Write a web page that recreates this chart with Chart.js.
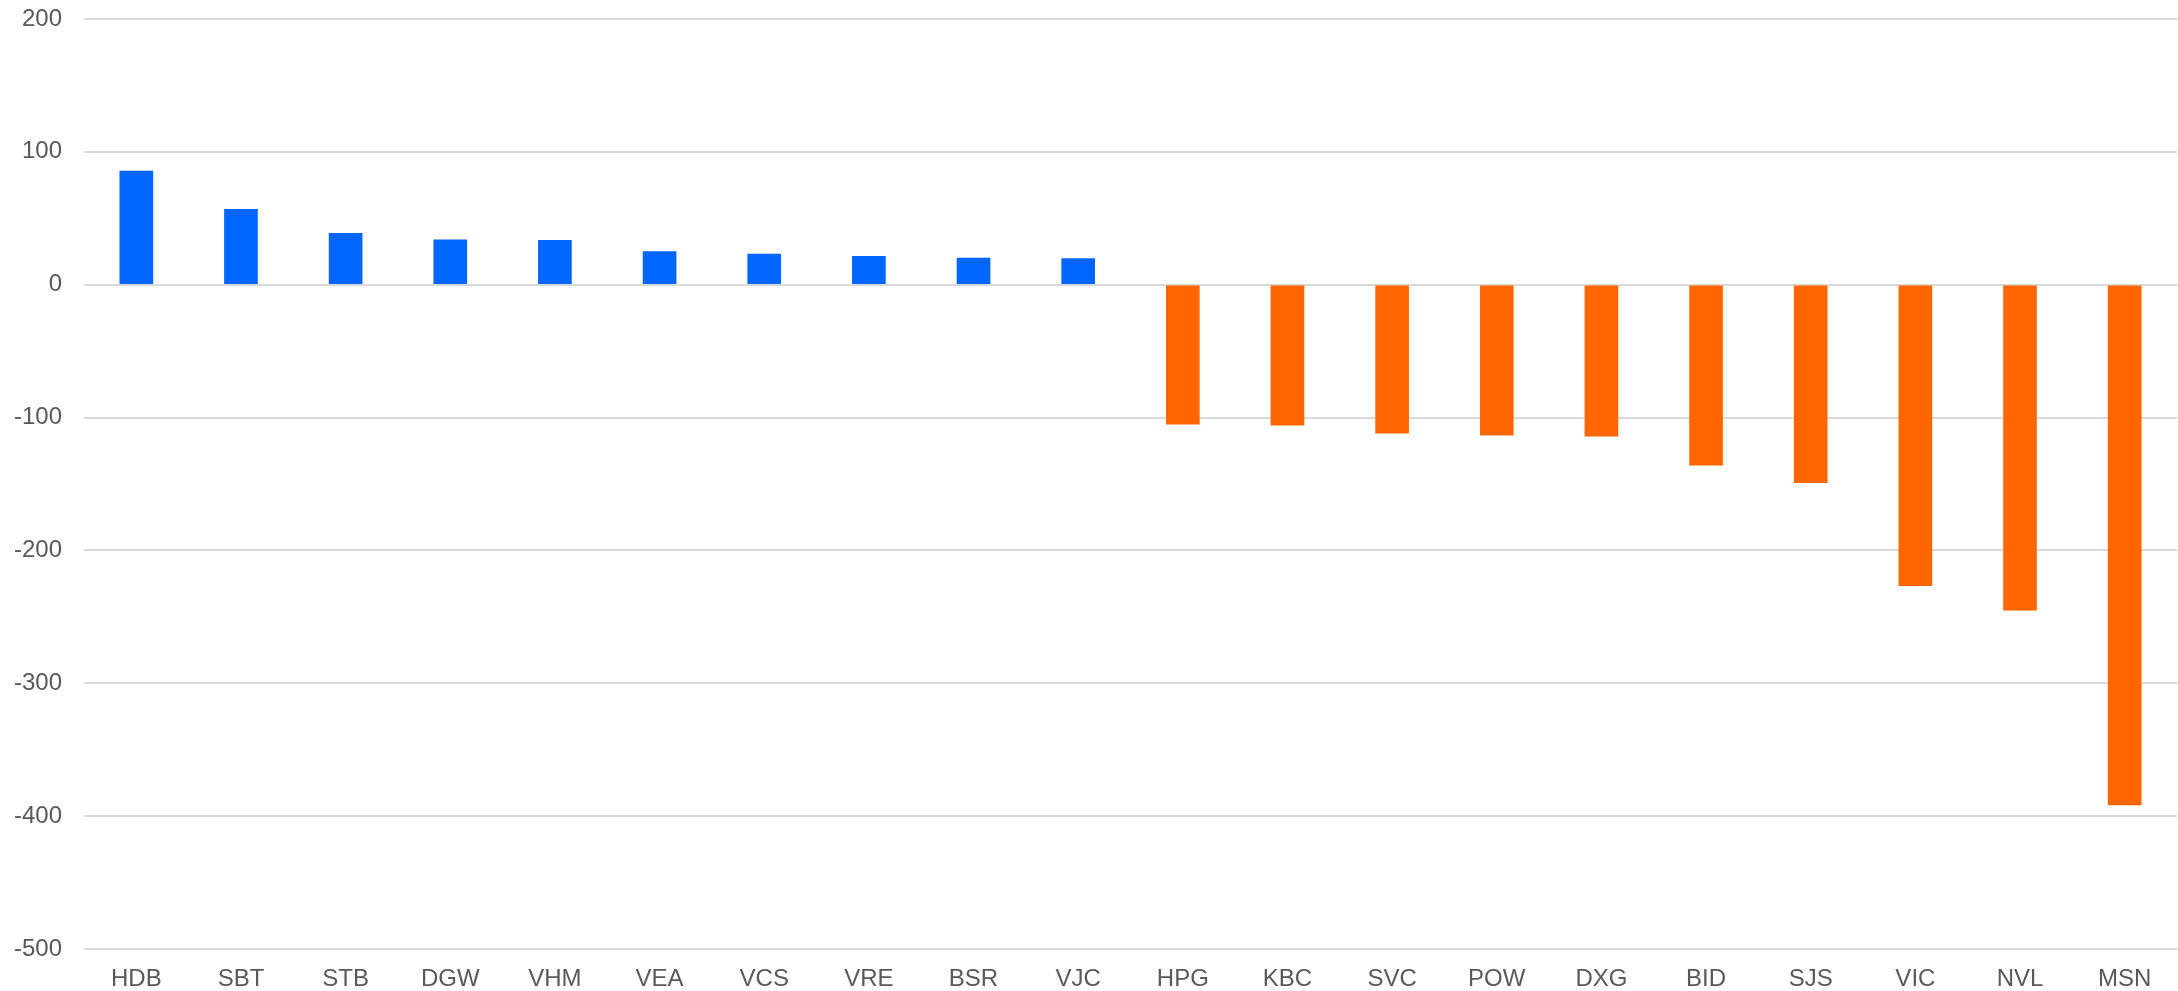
<!DOCTYPE html>
<html>
<head>
<meta charset="utf-8">
<script src="https://cdn.jsdelivr.net/npm/chart.js@4"></script>
<style>
  html, body { margin: 0; padding: 0; background: #fff; }
  #wrap { width: 2178px; height: 991px; }
</style>
</head>
<body>
<div id="wrap"><canvas id="chart" width="2178" height="991"></canvas></div>
<script>
const tickers = ['HDB', 'SBT', 'STB', 'DGW', 'VHM', 'VEA', 'VCS', 'VRE', 'BSR', 'VJC',
                 'HPG', 'KBC', 'SVC', 'POW', 'DXG', 'BID', 'SJS', 'VIC', 'NVL', 'MSN'];
const netValues = [85.6, 56.8, 38.7, 33.7, 33.4, 25.0, 23.0, 21.4, 20.0, 19.7,
                   -105.0, -105.7, -111.7, -113.2, -114.0, -135.8, -149.0, -226.6, -245.0, -391.6];
const yTicks = [200, 100, 0, -100, -200, -300, -400, -500];

const BLUE = '#0066ff';
const ORANGE = '#ff6600';

const ctx = document.getElementById('chart').getContext('2d');
new Chart(ctx, {
    type: 'bar',
    data: {
        labels: tickers,
        datasets: [{
            data: netValues,
            backgroundColor: netValues.map(v => v >= 0 ? BLUE : ORANGE),
            barThickness: 33,
            borderWidth: 0
        }]
    },
    options: {
        responsive: false,
        animation: false,
        layout: { padding: { top: 19, right: 1, left: 0, bottom: 0 } },
        plugins: {
            legend: { display: false },
            tooltip: { enabled: false }
        },
        scales: {
            x: {
                grid: { display: false, drawTicks: false },
                border: { display: false },
                ticks: {
                    color: '#595959',
                    font: { family: '"Liberation Sans", Arial, sans-serif', size: 24 },
                    padding: 16,
                    maxRotation: 0,
                    autoSkip: false
                },
                afterFit: (axis) => { axis.height = 42; }
            },
            y: {
                min: -500,
                max: 200,
                afterBuildTicks: (axis) => { axis.ticks = yTicks.map(v => ({ value: v })); },
                grid: { color: '#d9d9d9', lineWidth: 2, drawTicks: false },
                border: { display: false },
                ticks: {
                    color: '#595959',
                    font: { family: '"Liberation Sans", Arial, sans-serif', size: 24 },
                    padding: 22
                },
                afterFit: (axis) => {
                    axis.width = 84;
                    axis.paddingTop = 0;
                    axis.paddingBottom = 0;
                }
            }
        }
    }
});
</script>
</body>
</html>
